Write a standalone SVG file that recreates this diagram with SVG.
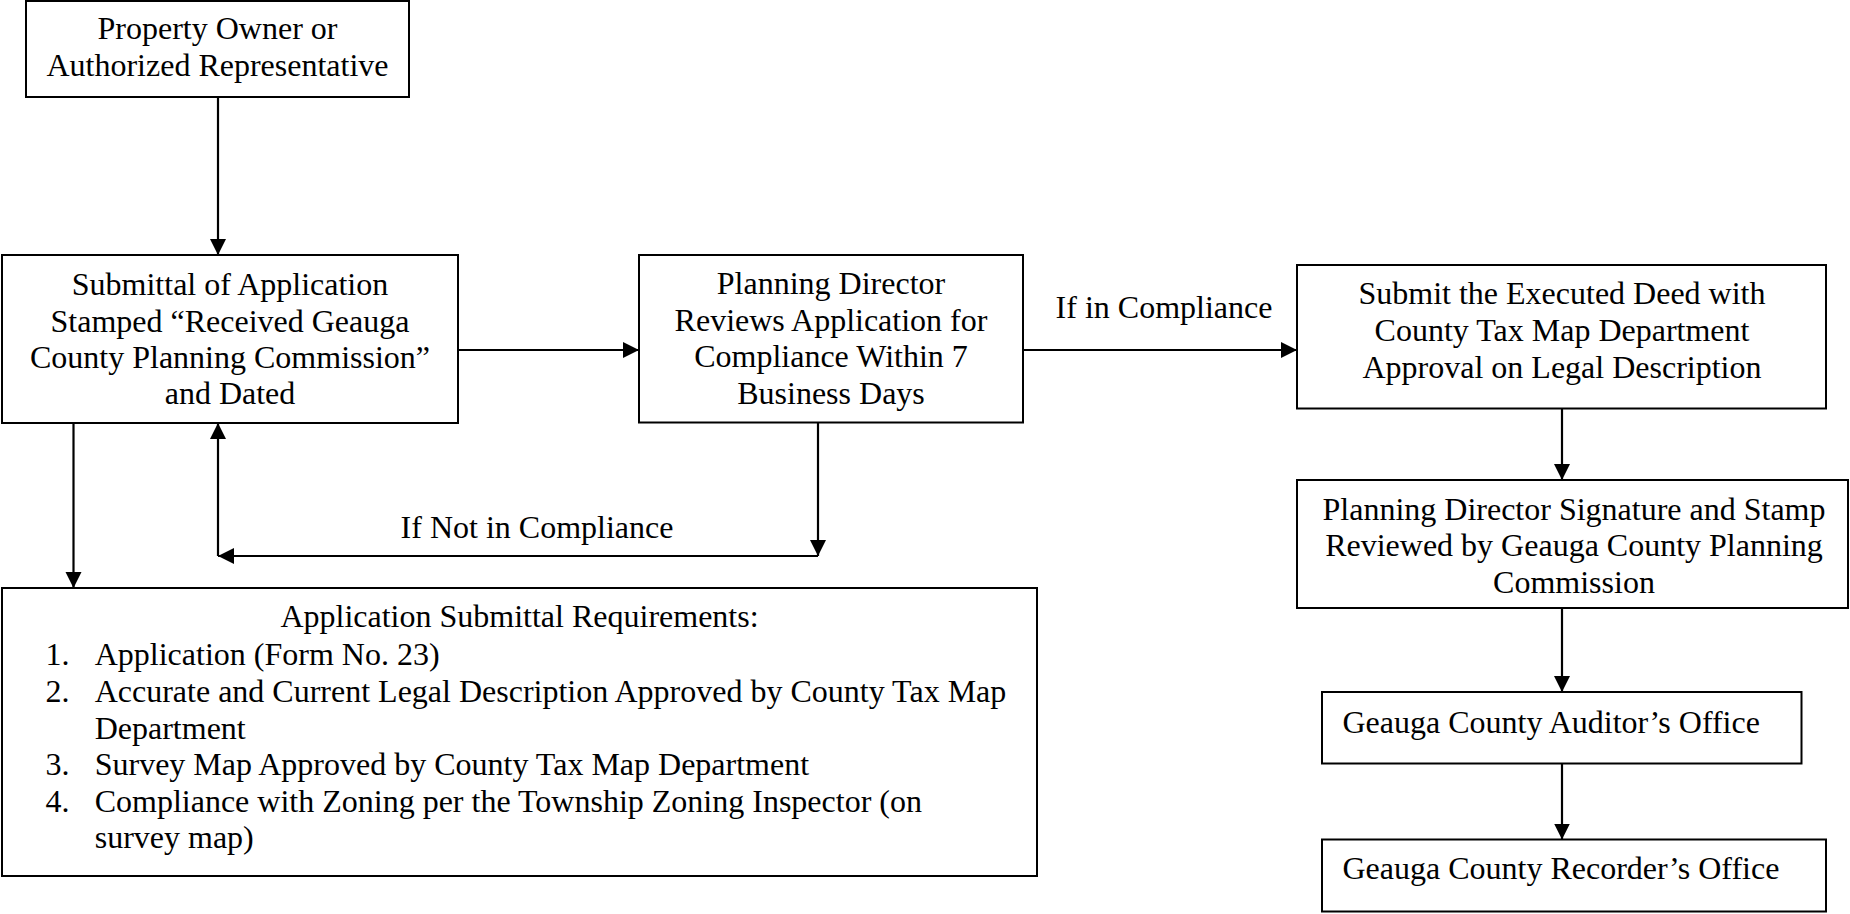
<svg xmlns="http://www.w3.org/2000/svg" width="1850" height="914" viewBox="0 0 1850 914">
<style>
.box{fill:#fff;stroke:#000;stroke-width:2}
.t{font-family:"Liberation Serif","Times New Roman",serif;font-size:32px;fill:#000}
.c{text-anchor:middle}
.ln{fill:none;stroke:#000;stroke-width:2.2}
.ar{marker-end:url(#ah)}
</style>
<defs>
<marker id="ah" markerUnits="userSpaceOnUse" markerWidth="18" markerHeight="18" refX="16" refY="8" orient="auto">
<path d="M0,0 L16,8 L0,16 z" fill="#000"/>
</marker>
</defs>
<rect width="1850" height="914" fill="#fff"/>
<g id="connectors">
<line class="ln ar" x1="218" y1="97" x2="218" y2="255"/>
<line class="ln ar" x1="458" y1="350" x2="639" y2="350"/>
<line class="ln ar" x1="1023" y1="350" x2="1297" y2="350"/>
<line class="ln ar" x1="818" y1="422" x2="818" y2="556"/>
<line class="ln ar" x1="818" y1="556" x2="218" y2="556"/>
<line class="ln ar" x1="218" y1="556" x2="218" y2="423"/>
<line class="ln ar" x1="73.5" y1="422" x2="73.5" y2="588"/>
<line class="ln ar" x1="1562" y1="408" x2="1562" y2="480"/>
<line class="ln ar" x1="1562" y1="608" x2="1562" y2="692"/>
<line class="ln ar" x1="1562" y1="763" x2="1562" y2="839.5"/>
<text class="t c" x="1164" y="318">If in Compliance</text>
<text class="t c" x="537" y="538">If Not in Compliance</text>
</g>
<g id="owner">
<rect class="box" x="26" y="1" width="383" height="96"/>
<text class="t c" x="217.5" y="39">Property Owner or</text>
<text class="t c" x="217.5" y="76">Authorized Representative</text>
</g>
<g id="submittal">
<rect class="box" x="2" y="255" width="456" height="168"/>
<text class="t c" x="230" y="295">Submittal of Application</text>
<text class="t c" x="230" y="332">Stamped “Received Geauga</text>
<text class="t c" x="230" y="368">County Planning Commission”</text>
<text class="t c" x="230" y="404">and Dated</text>
</g>
<g id="director-review">
<rect class="box" x="639" y="255" width="384" height="167.5"/>
<text class="t c" x="831" y="294">Planning Director</text>
<text class="t c" x="831" y="331">Reviews Application for</text>
<text class="t c" x="831" y="367">Compliance Within 7</text>
<text class="t c" x="831" y="404">Business Days</text>
</g>
<g id="requirements">
<rect class="box" x="2" y="588" width="1035" height="288"/>
<text class="t c" x="519.5" y="627">Application Submittal Requirements:</text>
<text class="t" x="45.6" y="665">1.</text>
<text class="t" x="94.7" y="665">Application (Form No. 23)</text>
<text class="t" x="45.6" y="702">2.</text>
<text class="t" x="94.7" y="702">Accurate and Current Legal Description Approved by County Tax Map</text>
<text class="t" x="94.7" y="739">Department</text>
<text class="t" x="45.6" y="775">3.</text>
<text class="t" x="94.7" y="775">Survey Map Approved by County Tax Map Department</text>
<text class="t" x="45.6" y="812">4.</text>
<text class="t" x="94.7" y="812">Compliance with Zoning per the Township Zoning Inspector (on</text>
<text class="t" x="94.7" y="848">survey map)</text>
</g>
<g id="executed-deed">
<rect class="box" x="1297" y="265" width="529" height="143.5"/>
<text class="t c" x="1562" y="304">Submit the Executed Deed with</text>
<text class="t c" x="1562" y="341">County Tax Map Department</text>
<text class="t c" x="1562" y="378">Approval on Legal Description</text>
</g>
<g id="director-signature">
<rect class="box" x="1297" y="480" width="551" height="128"/>
<text class="t c" x="1574" y="520">Planning Director Signature and Stamp</text>
<text class="t c" x="1574" y="556">Reviewed by Geauga County Planning</text>
<text class="t c" x="1574" y="593">Commission</text>
</g>
<g id="auditor">
<rect class="box" x="1322" y="692" width="479.5" height="71.5"/>
<text class="t" x="1342.5" y="733">Geauga County Auditor’s Office</text>
</g>
<g id="recorder">
<rect class="box" x="1322" y="839.5" width="504" height="72"/>
<text class="t" x="1342.5" y="879">Geauga County Recorder’s Office</text>
</g>
</svg>
